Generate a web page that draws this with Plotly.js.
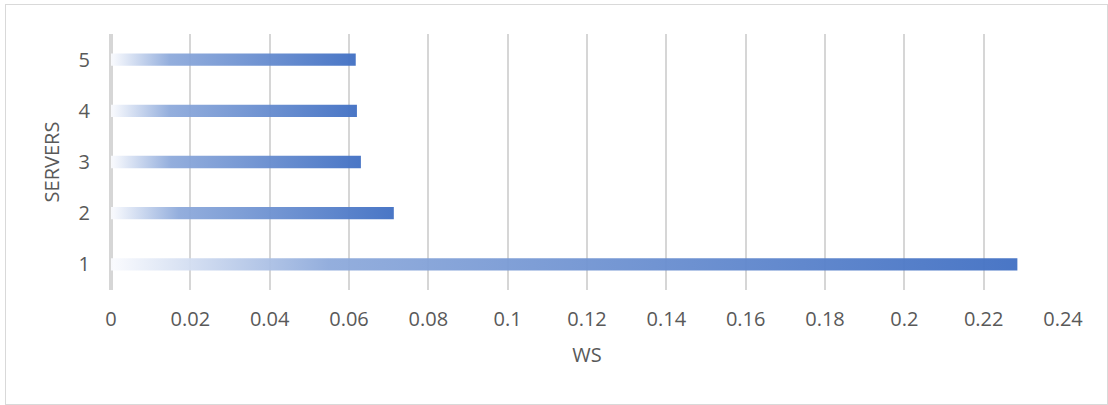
<!DOCTYPE html>
<html>
<head>
<meta charset="utf-8">
<script src="https://cdn.plot.ly/plotly-3.0.1.min.js"></script>
<style>
  html, body { margin: 0; padding: 0; background: #fff; }
  #wrap { position: relative; width: 1108px; height: 405px; }
  #chart { position: absolute; left: 0; top: 0; width: 1108px; height: 405px; }
  #frame { position: absolute; left: 5px; top: 4px; width: 1101px; height: 399px;
           border: 1px solid #d9d9d9; pointer-events: none; }
</style>
</head>
<body>
<div id="wrap"><div id="chart"></div><div id="frame"></div></div>
<script>
// Mean time in system (WS) by number of servers
const servers = [1, 2, 3, 4, 5];
const ws = [0.2285, 0.0713, 0.0630, 0.0620, 0.0617];

const xTickVals = [0, 0.02, 0.04, 0.06, 0.08, 0.1, 0.12, 0.14, 0.16, 0.18, 0.2, 0.22, 0.24];
const xTickText = ['0', '0.02', '0.04', '0.06', '0.08', '0.1', '0.12', '0.14', '0.16', '0.18', '0.2', '0.22', '0.24'];
const yTickText = servers.map(String);

// Each bar fades from near-white at zero to solid blue at its end
const barScale = [[0, 'rgba(250,251,254,0.95)'], [0.24, 'rgba(142,170,219,0.95)'], [1, 'rgba(68,114,196,0.97)']];
const halfBar = 0.12;
const textColor = '#595959';
const fontFamily = '"Open Sans", "Segoe UI", sans-serif';
const fontSize = 20;

const traces = servers.map((s, i) => ({
  type: 'scatter',
  mode: 'lines',
  x: [0, ws[i], ws[i], 0, 0],
  y: [s - halfBar, s - halfBar, s + halfBar, s + halfBar, s - halfBar],
  fill: 'toself',
  fillgradient: { type: 'horizontal', colorscale: barScale },
  line: { width: 0, color: 'rgba(0,0,0,0)' },
  hoveron: 'fills',
  name: 'Servers ' + s + ': ' + ws[i],
  showlegend: false
}));

const layout = {
  width: 1108,
  height: 405,
  margin: { l: 111, r: 45, t: 34, b: 115 },
  paper_bgcolor: '#ffffff',
  plot_bgcolor: '#ffffff',
  font: { family: fontFamily, color: textColor, size: fontSize },
  showlegend: false,
  xaxis: {
    range: [0, 0.24],
    tickmode: 'array',
    tickvals: xTickVals,
    ticktext: xTickText,
    showgrid: true,
    gridcolor: '#d6d6d6',
    gridwidth: 2,
    zeroline: true,
    zerolinecolor: '#d6d6d6',
    zerolinewidth: 3.5,
    showline: false,
    ticks: '',
    ticklabelstandoff: 15,
    tickfont: { family: fontFamily, size: fontSize, color: textColor },
    title: { text: 'WS', font: { family: fontFamily, size: fontSize, color: textColor }, standoff: 16 },
    fixedrange: true
  },
  yaxis: {
    range: [0.5, 5.5],
    tickmode: 'array',
    tickvals: servers,
    ticktext: yTickText,
    showgrid: false,
    zeroline: false,
    showline: false,
    ticks: '',
    ticklabelstandoff: 20,
    tickfont: { family: fontFamily, size: fontSize, color: textColor },
    title: { text: 'SERVERS', font: { family: fontFamily, size: fontSize, color: textColor }, standoff: 13 },
    fixedrange: true
  }
};

Plotly.newPlot('chart', traces, layout, { displayModeBar: false });
</script>
</body>
</html>
